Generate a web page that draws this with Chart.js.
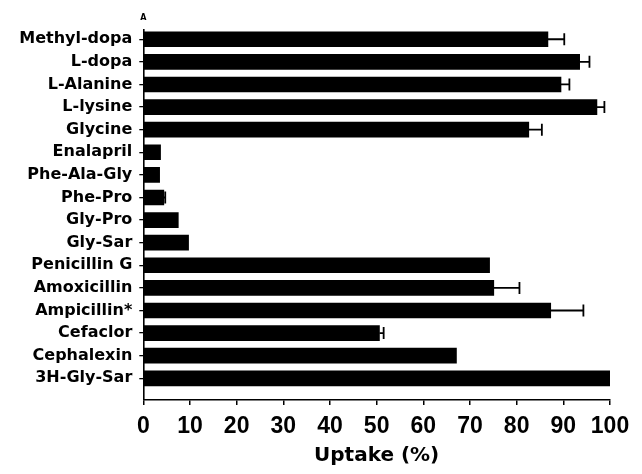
<!DOCTYPE html>
<html>
<head>
<meta charset="utf-8">
<script src="https://cdn.jsdelivr.net/npm/chart.js@4"></script>
<style>
  html, body { margin: 0; padding: 0; background: #fff; }
  #wrap { width: 642px; height: 474px; }
</style>
</head>
<body>
<div id="wrap"><canvas id="uptake-chart" width="642" height="474"></canvas></div>
<script>
// compounds, top to bottom
const compounds = ["Methyl-dopa", "L-dopa", "L-Alanine", "L-lysine", "Glycine", "Enalapril",
    "Phe-Ala-Gly", "Phe-Pro", "Gly-Pro", "Gly-Sar", "Penicillin G", "Amoxicillin",
    "Ampicillin*", "Cefaclor", "Cephalexin", "3H-Gly-Sar"];
// uptake (%) and error (+)
const uptake = [86.7, 93.5, 89.5, 97.2, 82.6, 3.7, 3.5, 4.4, 7.5, 9.7, 74.2, 75.1, 87.3, 50.6, 67.1, 100];
const uptakeErr = [3.5, 2.1, 1.8, 1.6, 2.8, 0, 0, 0.3, 0, 0, 0, 5.5, 7.0, 0.9, 0, 0];
const xTicks = [0, 10, 20, 30, 40, 50, 60, 70, 80, 90, 100];

const labelFont = { family: "DejaVu Sans", weight: "bold", size: 16 };
const tickFont = { family: "Liberation Sans", weight: "bold", size: 23 };

// error whiskers + panel letter + axis title
const extrasPlugin = {
    id: "extras",
    afterDatasetsDraw(chart) {
        const ctx = chart.ctx;
        const xs = chart.scales.x, ys = chart.scales.y;
        ctx.save();
        ctx.strokeStyle = "#000";
        ctx.lineWidth = 1.8;
        for (let i = 0; i < uptake.length; i++) {
            if (!uptakeErr[i]) continue;
            const y = ys.getPixelForValue(i);
            const x0 = xs.getPixelForValue(uptake[i]);
            const x1 = xs.getPixelForValue(uptake[i] + uptakeErr[i]);
            ctx.beginPath();
            ctx.moveTo(x0, y);
            ctx.lineTo(x1, y);
            ctx.moveTo(x1, y - 6);
            ctx.lineTo(x1, y + 6);
            ctx.stroke();
        }
        ctx.fillStyle = "#000";
        ctx.textAlign = "center";
        ctx.textBaseline = "middle";
        ctx.font = "bold 8px 'DejaVu Sans'";
        ctx.fillText("A", xs.left, 18);
        ctx.font = "bold 20px 'DejaVu Sans'";
        ctx.fillText("Uptake (%)", (xs.left + xs.right) / 2, 456);
        ctx.restore();
    }
};

new Chart("uptake-chart", {
    type: "bar",
    data: {
        datasets: [{
            data: uptake.map((v, i) => ({ x: v, y: i })),
            backgroundColor: "#000",
            borderWidth: 0,
            barThickness: 15
        }]
    },
    options: {
        indexAxis: "y",
        responsive: false,
        animation: false,
        maintainAspectRatio: false,
        layout: { padding: { top: 30, right: 32, left: 0, bottom: 0 } },
        plugins: {
            legend: { display: false },
            tooltip: { enabled: false }
        },
        scales: {
            x: {
                type: "linear",
                bounds: "data",
                min: 0,
                max: 100,
                afterBuildTicks: (s) => { s.ticks = xTicks.map(v => ({ value: v })); },
                afterFit: (s) => { s.height = 74; },
                grid: { drawOnChartArea: false, tickLength: 5, color: "#000", lineWidth: 1.5 },
                border: { display: true, color: "#000", width: 1.6 },
                ticks: { color: "#000", font: tickFont, padding: 8, maxRotation: 0, autoSkip: false }
            },
            y: {
                type: "linear",
                bounds: "data",
                offset: false,
                reverse: true,
                min: -0.41,
                max: 15.96,
                afterBuildTicks: (s) => { s.ticks = compounds.map((c, i) => ({ value: i })); },
                afterFit: (s) => { s.width = 143.3; },
                grid: { offset: false, drawOnChartArea: false, tickLength: 4, color: "#000", lineWidth: 1.3 },
                border: { display: true, color: "#000", width: 1.6 },
                ticks: {
                    color: "#000",
                    font: labelFont,
                    padding: 7,
                    autoSkip: false,
                    callback: (v) => compounds[v]
                }
            }
        }
    },
    plugins: [extrasPlugin]
});
</script>
</body>
</html>
